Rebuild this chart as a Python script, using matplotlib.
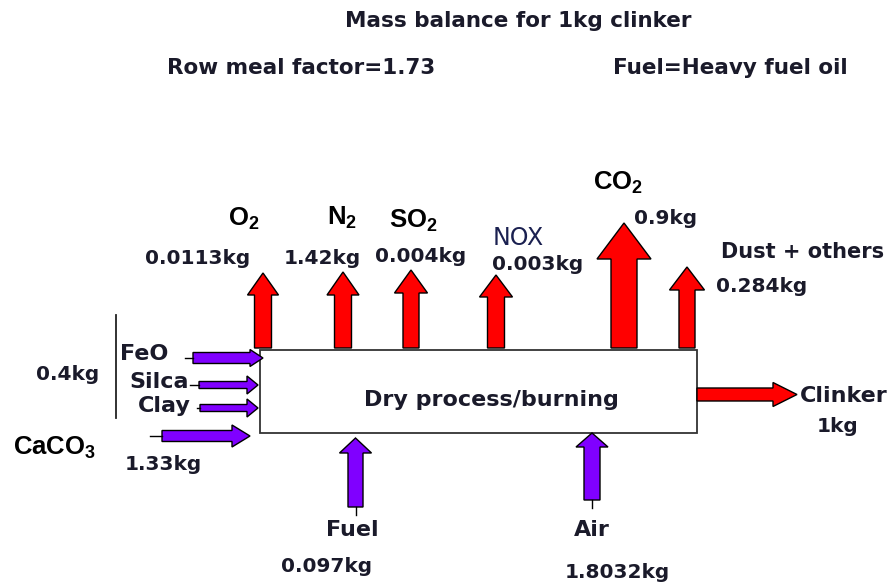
import matplotlib
matplotlib.use("Agg")
import matplotlib.pyplot as plt
from matplotlib.patches import FancyArrow, Rectangle

plt.rcParams['mathtext.fontset'] = 'custom'
plt.rcParams['mathtext.bf'] = 'Liberation Sans:bold'
plt.rcParams['mathtext.rm'] = 'Liberation Sans:bold'

# ---- data / labels ----
title = "Mass balance for 1kg clinker"
subtitle_left = "Row meal factor=1.73"
subtitle_right = "Fuel=Heavy fuel oil"
process_label = "Dry process/burning"

out_species = [r"$\mathbf{O_2}$", r"$\mathbf{N_2}$", r"$\mathbf{SO_2}$", "NOX", r"$\mathbf{CO_2}$", "Dust + others"]
out_values = ["0.0113kg", "1.42kg", "0.004kg", "0.003kg", "0.9kg", "0.284kg"]

left_inputs = ["FeO", "Silca", "Clay"]
left_group_value = "0.4kg"
caco3_label = r"$\mathbf{CaCO_3}$"
caco3_value = "1.33kg"

bottom_inputs = ["Fuel", "Air"]
bottom_values = ["0.097kg", "1.8032kg"]

product_label = "Clinker"
product_value = "1kg"

RED = "#ff0000"
PURPLE = "#8000ff"
TXT = "#1a1a2a"
FS_VAL = 14.5
FS_LAB = 16
FS_CHEM = 18.5

fig = plt.figure(figsize=(8.91, 5.82), dpi=100)
ax = fig.add_axes([0, 0, 1, 1])
ax.set_xlim(0, 891)
ax.set_ylim(582, 0)
ax.axis("off")

def arrow(x, y, dx, dy, w, hw, hl, color, tail=None):
    a = FancyArrow(x, y, dx, dy, width=w, head_width=hw, head_length=hl,
                   length_includes_head=True, facecolor=color, edgecolor="black",
                   linewidth=1.0, joinstyle="miter")
    ax.add_patch(a)
    if tail is not None:
        if dx != 0:
            ax.plot([tail, x], [y, y], color="black", lw=1.0)
        else:
            ax.plot([x, x], [tail, y], color="black", lw=1.0)

def label(x, y, s, fs=FS_VAL, weight="bold", color=TXT):
    ax.text(x, y, s, ha="center", va="center", fontsize=fs, fontweight=weight, color=color)

# titles
label(518, 21, title, fs=15.5)
label(301, 68, subtitle_left, fs=15.5)
label(730, 68, subtitle_right, fs=15.5)

# process box
ax.add_patch(Rectangle((260, 350), 437, 83, facecolor="white", edgecolor="#333333", lw=1.3))
label(491, 400, process_label, fs=16)

# output (red, up) arrows: (center x, tip y, shaft width, head width, head length)
out_geo = [(263, 273, 17, 31, 22), (343, 272, 17, 32, 23), (411, 270, 16, 33, 23),
           (496, 275, 17, 33, 22), (624, 223, 26, 54, 36), (687, 267, 16, 35, 23)]
for cx, tip, w, hw, hl in out_geo:
    arrow(cx, 348, 0, tip - 348, w, hw, hl, RED)

sp_pos = [(244, 219), (342, 218), (413, 221), (518, 238), (618, 183), (803, 252)]
for (sx, sy), s in zip(sp_pos, out_species):
    if s.startswith("$"):
        ax.text(sx, sy, s, ha="center", va="center", fontsize=FS_CHEM, color="black")
    elif s == "NOX":
        label(sx, sy, s, fs=17, weight="normal", color="#1a2050")
    else:
        label(sx, sy, s, fs=FS_VAL + 0.5)

val_pos = [(198, 258), (322, 258), (421, 257), (538, 264), (666, 218), (762, 286)]
for (vx, vy), v in zip(val_pos, out_values):
    label(vx, vy, v)

# clinker output
arrow(697, 394.5, 100, 0, 13, 24, 24, RED)
label(844, 396, product_label, fs=FS_LAB)
label(838, 427, product_value, fs=FS_VAL)

# left inputs
left_geo = [(193, 358, 263, 11, 17, 13, 185), (199, 385, 258, 7, 18, 11, 190), (200, 408, 258, 7, 18, 11, 197)]
for x0, y0, tipx, w, hw, hl, tail in left_geo:
    arrow(x0, y0, tipx - x0, 0, w, hw, hl, PURPLE, tail=tail)
lab_pos = [(144, 354), (159, 382), (164, 406)]
for (lx, ly), l in zip(lab_pos, left_inputs):
    label(lx, ly, l, fs=FS_LAB)
ax.plot([116, 116], [315, 418], color="#222222", lw=1.3)
label(68, 375, left_group_value)

arrow(162, 436, 88, 0, 11, 22, 18, PURPLE, tail=150)
ax.text(55, 448, caco3_label, ha="center", va="center", fontsize=FS_CHEM, color="black")
label(163, 465, caco3_value)

# bottom inputs
bot_geo = [(355.5, 507, 438, 15, 32, 15, 515), (592, 500, 433, 16, 32, 14, 508)]
for cx, y0, tip, w, hw, hl, tail in bot_geo:
    arrow(cx, y0, 0, tip - y0, w, hw, hl, PURPLE, tail=tail)
bl_pos = [(352, 530), (592, 530)]
for (bx, by), b in zip(bl_pos, bottom_inputs):
    label(bx, by, b, fs=FS_LAB)
bv_pos = [(327, 567), (617, 572)]
for (bx, by), b in zip(bv_pos, bottom_values):
    label(bx, by, b)

fig.savefig("out.png", dpi=100, facecolor="white")
